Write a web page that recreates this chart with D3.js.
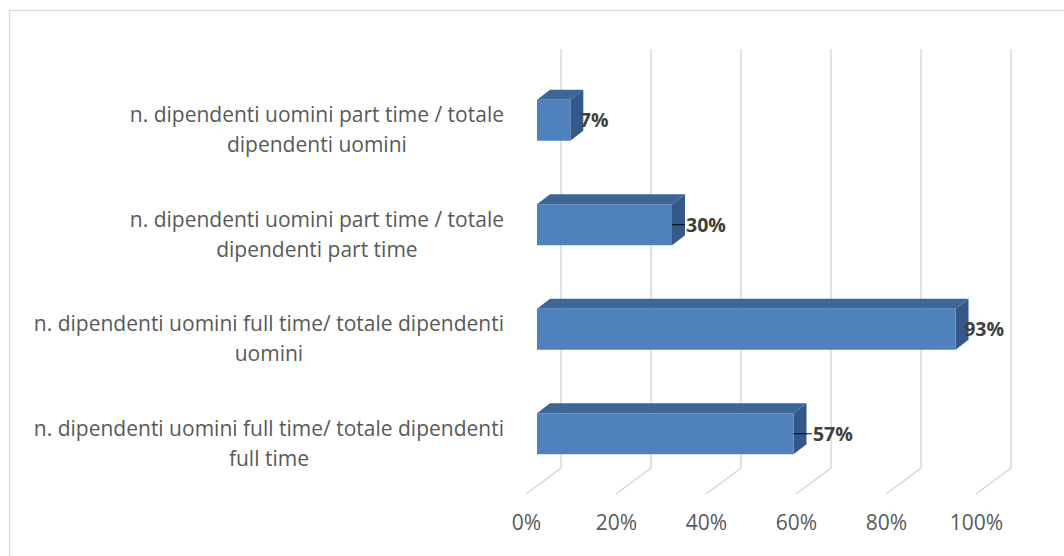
<!DOCTYPE html>
<html>
<head>
<meta charset="utf-8">
<script src="https://cdn.jsdelivr.net/npm/d3@7"></script>
<style>
    body { margin: 0; background: #fff; }
    svg { display: block; }
</style>
</head>
<body>
<svg width="1064" height="556"></svg>
<script>
var categories = [
    "n. dipendenti uomini part time / totale\ndipendenti uomini",
    "n. dipendenti uomini part time / totale\ndipendenti part time",
    "n. dipendenti uomini full time/ totale dipendenti\nuomini",
    "n. dipendenti uomini full time/ totale dipendenti\nfull time"
];
var values = [0.074, 0.30, 0.93, 0.57];
var tickValues = [0, 0.2, 0.4, 0.6, 0.8, 1.0];

var FONT = "'Open Sans', 'Noto Sans', sans-serif";
var depthX = 13, depthY = -10;   // bar depth
var barH = 41;

var svg = d3.select("svg");

// chart border
svg.append("rect")
    .attr("x", 9.5).attr("y", 10.5)
    .attr("width", 1200).attr("height", 700)
    .attr("fill", "none")
    .attr("stroke", "#d9d9d9")
    .attr("stroke-width", 1.3);

var x = d3.scaleLinear().domain([0, 1]).range([537, 987]);
var y = d3.scaleBand().domain(categories).range([68, 486]);

var fmt = d3.format(".0%");

// gridlines: back wall + floor diagonal
var grid = svg.append("g");
tickValues.forEach(function(t) {
    var bx = x(t) + 24;
    grid.append("path")
        .attr("d", "M" + bx + ",49 L" + bx + ",468 L" + (bx - 35) + ",494")
        .attr("fill", "none")
        .attr("stroke", "#d9d9d9")
        .attr("stroke-width", 1.5);
});

// bars
var bars = svg.append("g").selectAll("g")
    .data(values)
    .enter()
    .append("g");

bars.each(function(v, i) {
    var g = d3.select(this);
    var x0 = x(0), x1 = x(v);
    var yc = y(categories[i]) + y.bandwidth() / 2;
    var yt = yc - barH / 2, yb = yc + barH / 2;
    // top face
    g.append("path")
        .attr("d", "M" + x0 + "," + yt + " L" + (x0 + depthX) + "," + (yt + depthY) +
            " L" + (x1 + depthX) + "," + (yt + depthY) + " L" + x1 + "," + yt + "Z")
        .attr("fill", "#3d6596");
    // side face
    g.append("path")
        .attr("d", "M" + x1 + "," + yt + " L" + (x1 + depthX) + "," + (yt + depthY) +
            " L" + (x1 + depthX) + "," + (yb + depthY) + " L" + x1 + "," + yb + "Z")
        .attr("fill", "#34588a");
    // front face
    g.append("rect")
        .attr("x", x0).attr("y", yt)
        .attr("width", x1 - x0).attr("height", barH)
        .attr("fill", "#4f81bd");
});

// data labels with leader lines
bars.each(function(v, i) {
    var g = d3.select(this);
    var yc = y(categories[i]) + y.bandwidth() / 2;
    var label = g.append("text")
        .attr("y", yc)
        .attr("dy", "0.36em")
        .attr("font-family", FONT)
        .attr("font-size", 19.5)
        .attr("font-weight", "bold")
        .attr("fill", "#404040")
        .text(fmt(v));
    var w = label.node().getComputedTextLength();
    var lx = Math.min(x(v) + 8 + 20 * v, 1004 - w);
    label.attr("x", lx);
    if (lx - x(v) > 12) {
        g.append("line")
            .attr("x1", x(v)).attr("x2", lx - 1)
            .attr("y1", yc).attr("y2", yc)
            .attr("stroke", "#000")
            .attr("stroke-width", 1);
    }
});

// category labels, centred lines, block right-aligned
categories.forEach(function(c) {
    var yc = y(c) + y.bandwidth() / 2;
    var g = svg.append("g");
    var t = g.append("text")
        .attr("font-family", FONT)
        .attr("font-size", 21)
        .attr("fill", "#595959")
        .attr("text-anchor", "middle");
    c.split("\n").forEach(function(line, k) {
        t.append("tspan")
            .attr("x", 0)
            .attr("y", yc + 2 + k * 30)
            .text(line);
    });
    var bb = t.node().getBBox();
    g.attr("transform", "translate(" + (504 - (bb.x + bb.width)) + ",0)");
});

// value axis on the floor
var xFloor = d3.scaleLinear().domain([0, 1]).range([526, 976]);
var axis = svg.append("g")
    .attr("transform", "translate(0,494)")
    .call(d3.axisBottom(xFloor).tickValues(tickValues).tickFormat(fmt).tickSize(0).tickPadding(21));
axis.select(".domain").remove();
axis.selectAll("text")
    .attr("font-family", FONT)
    .attr("font-size", 21)
    .attr("fill", "#595959");
</script>
</body>
</html>
